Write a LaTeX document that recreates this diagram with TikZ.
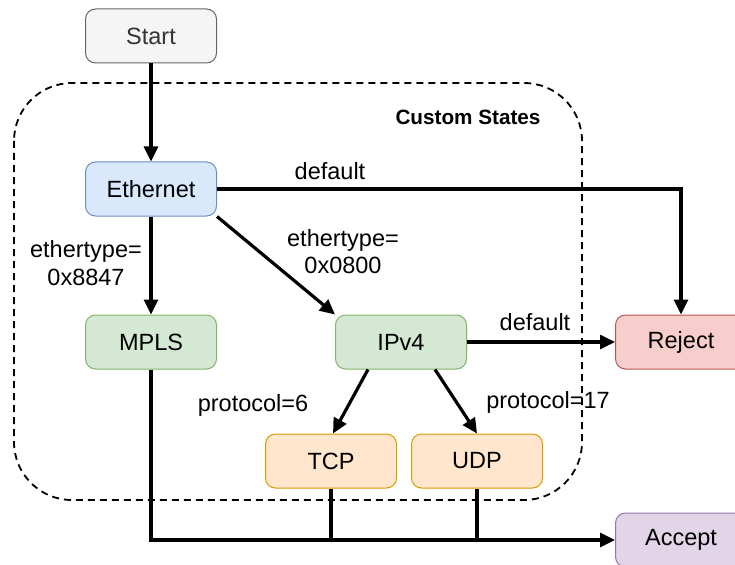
\documentclass[tikz,border=0pt]{standalone}
\usepackage{fontspec}
\setmainfont{Liberation Sans}
\usetikzlibrary{arrows.meta}

\definecolor{startfill}{HTML}{F5F5F5}
\definecolor{startline}{HTML}{666666}
\definecolor{starttext}{HTML}{333333}
\definecolor{ethfill}{HTML}{DAE8FC}
\definecolor{ethline}{HTML}{6C8EBF}
\definecolor{greenfill}{HTML}{D5E8D4}
\definecolor{greenline}{HTML}{82B366}
\definecolor{rejfill}{HTML}{F8CECC}
\definecolor{rejline}{HTML}{B85450}
\definecolor{orangefill}{HTML}{FFE6CC}
\definecolor{orangeline}{HTML}{D79B00}
\definecolor{accfill}{HTML}{E1D5E7}
\definecolor{accline}{HTML}{9673A6}

\begin{document}
\begin{tikzpicture}[x=1pt,y=-1pt,
    font=\fontsize{23.5}{27}\selectfont,
    state/.style={draw,rounded corners=10pt,minimum width=131pt,minimum height=54pt,inner sep=0pt,line width=1pt},
    lbl/.style={align=center,inner sep=0pt},
    flow/.style={line width=3.2pt,-{Triangle[length=15pt,width=14pt]}},
    cluster/.style={draw,dash pattern=on 7pt off 5pt,line width=1.8pt,rounded corners=58pt}]
  \useasboundingbox (0,0) rectangle (735,564);
  \draw[cluster] (14,83) rectangle (582,500);
  \node[lbl,font=\fontsize{20.7}{24}\selectfont\bfseries] (custom) at (468,117) {Custom States};
  \draw
    (151,36) node[state,fill=startfill,draw=startline,text=starttext] (start){Start}
    (151,189) node[state,fill=ethfill,draw=ethline] (ethernet){Ethernet}
    (151,342) node[state,fill=greenfill,draw=greenline] (mpls){MPLS}
    (401,342) node[state,fill=greenfill,draw=greenline] (ipv4){IPv4}
    (681,342) node[state,fill=rejfill,draw=rejline] (reject){Reject}
    (331,461) node[state,fill=orangefill,draw=orangeline] (tcp){TCP}
    (477,461) node[state,fill=orangefill,draw=orangeline] (udp){UDP}
    (681,540) node[state,fill=accfill,draw=accline] (accept){Accept};
  % edge labels
  \node[lbl] (deflab1) at (330,171) {default};
  \node[lbl] (ethlab1) at (86,263) {ethertype=\\[1pt]0x8847};
  \node[lbl] (ethlab2) at (343,252) {ethertype=\\0x0800};
  \node[lbl] (deflab2) at (535,322) {default};
  \node[lbl] (protolab1) at (253,405) {protocol=6};
  \node[lbl] (protolab2) at (548,402) {protocol=17};
  \begin{scope}[flow]
    \draw (start) to (ethernet);
    \draw (ethernet) -| (reject);
    \draw (ethernet) to (mpls);
    \draw (ethernet.south east) to (ipv4.north west);
    \draw (ipv4) to (reject);
    \draw ([xshift=-33pt]ipv4.south) to ([xshift=2pt]tcp.north);
    \draw ([xshift=34pt]ipv4.south) to (udp.north);
    \draw (mpls) |- (accept);
  \end{scope}
  \draw[line width=3.2pt] (tcp) -- (tcp |- accept);
  \draw[line width=3.2pt] (udp) -- (udp |- accept);
\end{tikzpicture}
\end{document}
